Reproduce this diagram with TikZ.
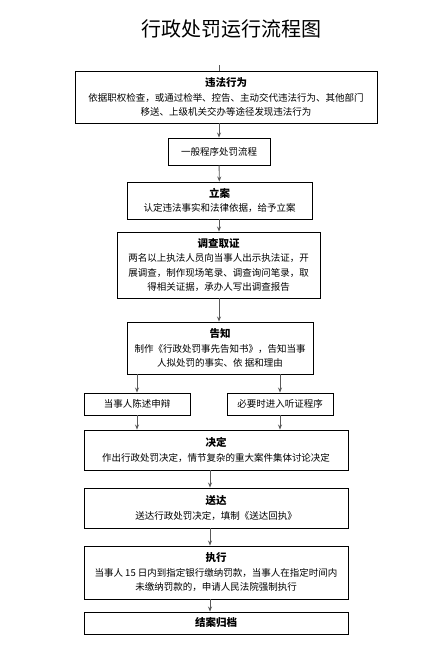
\documentclass[tikz,border=0pt]{standalone}
\usepackage{fontspec}
\setmainfont{Noto Sans CJK SC}
\usetikzlibrary{arrows.meta}

\begin{document}
\begin{tikzpicture}[x=1pt,y=-1pt]
\tikzstyle{box}=[draw=black,line width=0.9pt,inner sep=2pt,align=center,font=\fontsize{9.5}{14.5}\selectfont]
\tikzstyle{arr}=[draw=black!65,line width=0.9pt,-{Stealth[length=5pt,width=4pt]}]
\tikzstyle{hd}=[]
\useasboundingbox (0,0) rectangle (447,659);
% title
\node (t) at (231,29) {\fontsize{20}{24}\selectfont 行政处罚运行流程图};
\coordinate (0) at (219,65);
\node[box,minimum width=302pt,minimum height=52pt] (1) at (226,97) {{\bfseries\fontsize{10.5}{14.5}\selectfont 违法行为}\\依据职权检查，或通过检举、控告、主动交代违法行为、其他部门\\移送、上级机关交办等途径发现违法行为};
\node[box,minimum width=102pt,minimum height=27pt] (2) at (219,151.5) {一般程序处罚流程};
\node[box,minimum width=185pt,minimum height=37pt] (3) at (219.5,200.5) {{\bfseries\fontsize{10.5}{14.5}\selectfont 立案}\\认定违法事实和法律依据，给予立案};
\node[box,minimum width=203pt,minimum height=66pt] (4) at (218.5,265) {{\bfseries\fontsize{10.5}{14.5}\selectfont 调查取证}\\两名以上执法人员向当事人出示执法证，开\\展调查，制作现场笔录、调查询问笔录，取\\得相关证据，承办人写出调查报告};
\node[box,minimum width=186pt,minimum height=52pt] (5) at (220,348) {{\bfseries\fontsize{10.5}{14.5}\selectfont 告知}\\制作《行政处罚事先告知书》，告知当事\\人拟处罚的事实、依 据和理由};
\node[box,minimum width=106pt,minimum height=22pt] (6) at (137,404) {当事人陈述申辩};
\node[box,minimum width=106pt,minimum height=22pt] (7) at (280,404) {必要时进入听证程序};
\node[box,minimum width=264pt,minimum height=40pt] (8) at (216,450) {{\bfseries\fontsize{10.5}{14.5}\selectfont 决定}\\作出行政处罚决定，情节复杂的重大案件集体讨论决定};
\node[box,minimum width=264pt,minimum height=40pt] (9) at (216,508) {{\bfseries\fontsize{10.5}{14.5}\selectfont 送达}\\送达行政处罚决定，填制《送达回执》};
\node[box,minimum width=264pt,minimum height=53pt] (10) at (216,572.5) {{\bfseries\fontsize{10.5}{14.5}\selectfont 执行}\\当事人 15 日内到指定银行缴纳罚款，当事人在指定时间内\\未缴纳罚款的，申请人民法院强制执行};
\node[box,minimum width=264pt,minimum height=22pt,font=\bfseries\fontsize{10.5}{14.5}\selectfont] (11) at (216,623) {结案归档};
\draw[draw=black!65,line width=0.9pt] (0) -- (1.north -| 0);
\draw[arr] (1.south -| 2) -- (2);
\draw[arr] (2) -- (3);
\draw[arr] (3.south -| 2) -- (4.north -| 2);
\draw[arr] (4.south -| 2) -- (5.north -| 2);
\draw[arr] (5.south -| 6) -- (6);
\draw[arr] (5.south -| 7) -- (7);
\draw[arr] (6) -- (8.north -| 6);
\draw[arr] (7) -- (8.north -| 7);
\draw[arr] ([xshift=-6pt]8.south) -- ([xshift=-6pt]9.north);
\draw[arr] ([xshift=-6pt]9.south) -- ([xshift=-6pt]10.north);
\draw[arr] ([xshift=-6pt]10.south) -- ([xshift=-6pt]11.north);
\end{tikzpicture}
\end{document}
